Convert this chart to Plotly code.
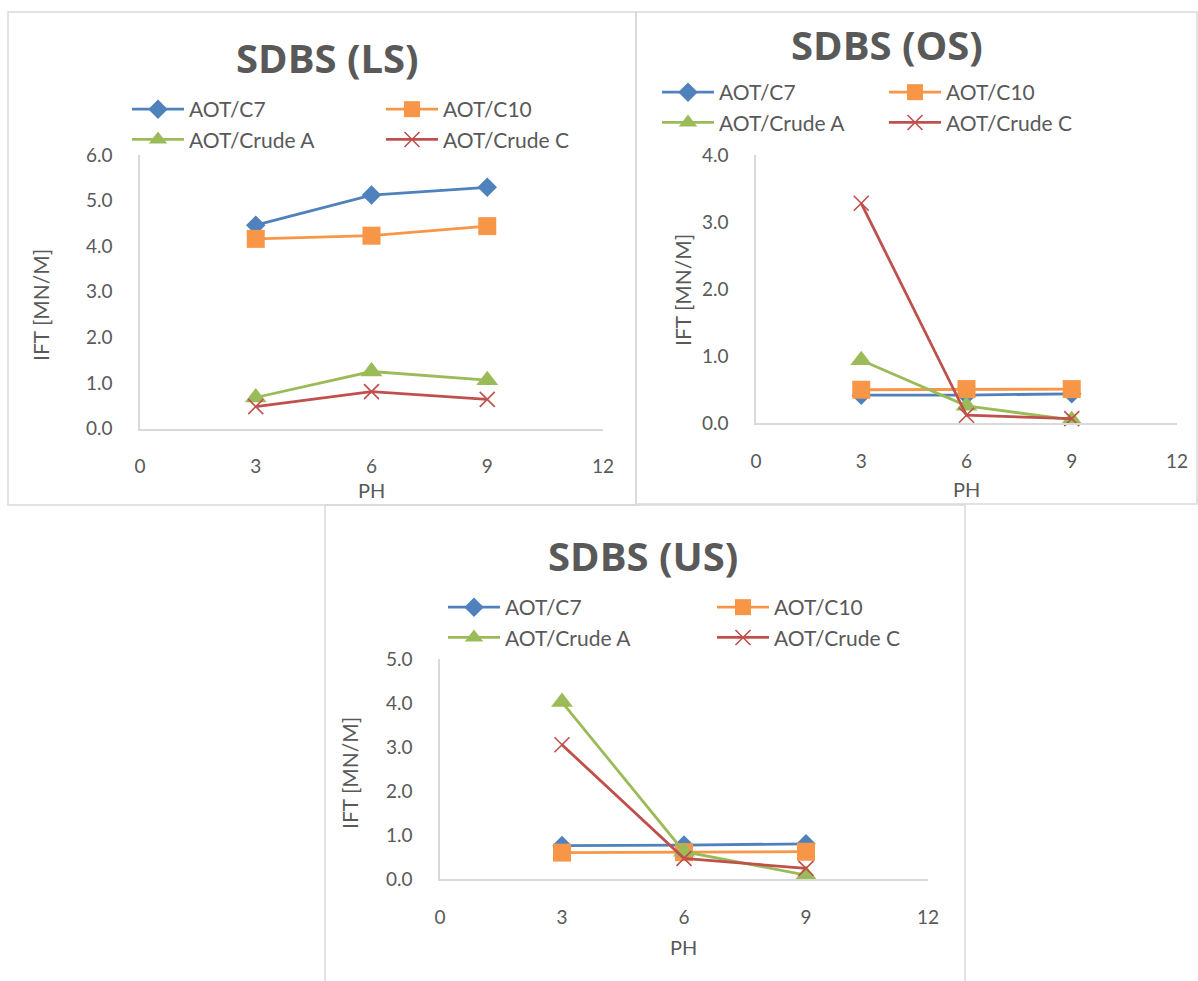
import plotly.graph_objects as go

# pH values shared by every panel
PH = [3, 6, 9]
SERIES = ["AOT/C7", "AOT/C10", "AOT/Crude A", "AOT/Crude C"]
X_TICKS = [0, 3, 6, 9, 12]

# IFT [mN/m] per panel and series
LS_C7 = [4.46, 5.12, 5.29]
LS_C10 = [4.16, 4.23, 4.44]
LS_CRUDE_A = [0.68, 1.25, 1.06]
LS_CRUDE_C = [0.48, 0.81, 0.64]

OS_C7 = [0.42, 0.42, 0.44]
OS_C10 = [0.50, 0.51, 0.51]
OS_CRUDE_A = [0.94, 0.26, 0.05]
OS_CRUDE_C = [3.28, 0.12, 0.07]

US_C7 = [0.76, 0.77, 0.80]
US_C10 = [0.60, 0.61, 0.62]
US_CRUDE_A = [4.02, 0.62, 0.09]
US_CRUDE_C = [3.05, 0.47, 0.24]

W, H = 1198, 981
TEXT = "#595959"
AXIS_LINE = "#d9d9d9"
FONT = "Lato"

COLORS = ["#4F81BD", "#F79646", "#9BBB59", "#C0504D"]
MARKERS = [
    dict(symbol="diamond", size=15),
    dict(symbol="square", size=18),
    dict(symbol="triangle-up", size=19),
    dict(symbol="x-thin", size=15),
]


def px(x):
    return x / W


def py(y):
    return 1 - y / H


panels = [
    dict(name="SDBS (LS)", data=[LS_C7, LS_C10, LS_CRUDE_A, LS_CRUDE_C], ymax=6,
         xdom=(140, 603), ydom=(428.5, 155), box=(8, 12, 636, 505),
         title=(327, 58), ytitle=(40, 305), xtitle=(371, 490),
         leg1=(127, 89), leg2=(381, 89)),
    dict(name="SDBS (OS)", data=[OS_C7, OS_C10, OS_CRUDE_A, OS_CRUDE_C], ymax=4,
         xdom=(756, 1177), ydom=(423.3, 155), box=(636, 12, 1197, 504),
         title=(887, 45), ytitle=(682, 290), xtitle=(966, 489),
         leg1=(657, 72), leg2=(884, 72)),
    dict(name="SDBS (US)", data=[US_C7, US_C10, US_CRUDE_A, US_CRUDE_C], ymax=5,
         xdom=(440, 928), ydom=(879, 659), box=(325, 505, 965, 995),
         title=(643, 555), ytitle=(349, 773), xtitle=(683, 947),
         leg1=(443, 587), leg2=(712, 587)),
]

fig = go.Figure()
layout = dict(
    width=W, height=H,
    margin=dict(l=0, r=0, t=0, b=0, pad=0, autoexpand=False),
    paper_bgcolor="white", plot_bgcolor="white",
    font=dict(family=FONT, color=TEXT, size=19),
    annotations=[], shapes=[],
)

for i, p in enumerate(panels):
    sfx = "" if i == 0 else str(i + 1)
    xa, ya = "x" + sfx, "y" + sfx
    leg_a = "legend" if i == 0 else "legend%d" % (2 * i + 1)
    leg_b = "legend%d" % (2 * i + 2)

    # chart frame
    x0, y0, x1, y1 = p["box"]
    layout["shapes"].append(dict(
        type="rect", xref="paper", yref="paper", layer="below",
        x0=px(x0), x1=px(x1), y0=py(y1), y1=py(y0),
        line=dict(color=AXIS_LINE, width=1.5), fillcolor="rgba(0,0,0,0)"))

    for k, (name, vals) in enumerate(zip(SERIES, p["data"])):
        mk = dict(MARKERS[k], color=COLORS[k])
        if MARKERS[k]["symbol"] == "x-thin":
            mk["line"] = dict(color=COLORS[k], width=1.6)
        fig.add_trace(go.Scatter(
            x=PH, y=vals, name=name, mode="lines+markers",
            line=dict(color=COLORS[k], width=2.8), marker=mk,
            xaxis=xa, yaxis=ya, cliponaxis=False,
            legend=leg_a if k in (0, 2) else leg_b,
        ))

    axis_common = dict(showline=True, linecolor=AXIS_LINE, linewidth=1.5,
                       showgrid=False, zeroline=False, ticks="", automargin=False,
                       tickfont=dict(size=19, color=TEXT, family=FONT))
    layout["xaxis" + sfx] = dict(
        axis_common, domain=[px(p["xdom"][0]), px(p["xdom"][1])],
        range=[0, 12], tickvals=X_TICKS, anchor=ya, ticklabelstandoff=20)
    layout["yaxis" + sfx] = dict(
        axis_common, domain=[py(p["ydom"][0]), py(p["ydom"][1])],
        range=[0, p["ymax"]], dtick=1, tickformat=".1f", anchor=xa,
        ticklabelstandoff=22)

    leg_style = dict(orientation="v", xanchor="left", yanchor="top",
                     bgcolor="rgba(0,0,0,0)", itemwidth=52, tracegroupgap=0,
                     font=dict(size=21, color=TEXT, family=FONT))
    layout[leg_a] = dict(leg_style, x=px(p["leg1"][0]), y=py(p["leg1"][1]))
    layout[leg_b] = dict(leg_style, x=px(p["leg2"][0]), y=py(p["leg2"][1]))

    layout["annotations"] += [
        dict(text="<b>%s</b>" % p["name"], x=px(p["title"][0]), y=py(p["title"][1]),
             xref="paper", yref="paper", showarrow=False, xanchor="center", yanchor="middle",
             font=dict(family="Open Sans", size=40, color=TEXT)),
        dict(text="IFT [MN/M]", x=px(p["ytitle"][0]), y=py(p["ytitle"][1]), textangle=-90,
             xref="paper", yref="paper", showarrow=False, xanchor="center", yanchor="middle",
             font=dict(family=FONT, size=21, color=TEXT)),
        dict(text="PH", x=px(p["xtitle"][0]), y=py(p["xtitle"][1]),
             xref="paper", yref="paper", showarrow=False, xanchor="center", yanchor="middle",
             font=dict(family=FONT, size=20, color=TEXT)),
    ]

fig.update_layout(**layout)
fig.write_html("out.html")
